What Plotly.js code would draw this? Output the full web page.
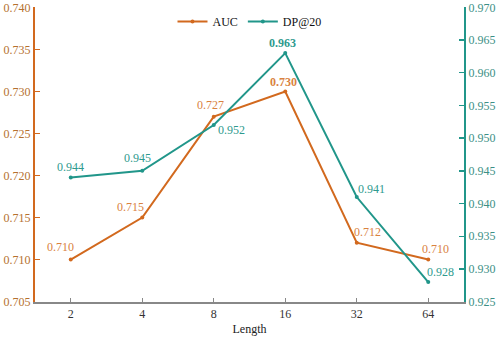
<!DOCTYPE html>
<html>
<head>
<meta charset="utf-8">
<script src="https://cdn.plot.ly/plotly-3.0.1.min.js"></script>
<style>
  html, body { margin: 0; padding: 0; background: #fff; }
  #chart { width: 498px; height: 338px; }
</style>
</head>
<body>
<div id="chart"></div>
<script>
const lengths = ['2', '4', '8', '16', '32', '64'];
const auc = [0.710, 0.715, 0.727, 0.730, 0.712, 0.710];
const dp20 = [0.944, 0.945, 0.952, 0.963, 0.941, 0.928];
const aucTicks = [0.705, 0.710, 0.715, 0.720, 0.725, 0.730, 0.735, 0.740];
const dpTicks = [0.925, 0.930, 0.935, 0.940, 0.945, 0.950, 0.955, 0.960, 0.965, 0.970];

const ORANGE = '#d2691e';
const TEAL = '#21968a';
const FONT = 'Liberation Serif';

// label offsets (px) per point; the max of each series is drawn bold
const aucShift = [[-10, 13], [-12, 11], [-3, 12], [-2, 9], [11, 11], [7, 11]];
const dpShift = [[0, 10], [-5, 13], [18, -5], [-3, 10], [15, 8], [12, 10]];

function labels(vals, yref, shifts, color) {
  const maxV = Math.max(...vals);
  return vals.map((v, i) => ({
    x: i, y: v, xref: 'x', yref,
    text: v === maxV ? `<b>${v.toFixed(3)}</b>` : v.toFixed(3),
    showarrow: false, xshift: shifts[i][0], yshift: shifts[i][1],
    font: { family: FONT, size: 12, color }
  }));
}

const pad = 0.00005;

Plotly.newPlot('chart', [
  { x: lengths, y: auc, name: 'AUC', type: 'scatter', mode: 'lines+markers',
    line: { color: ORANGE, width: 2 }, marker: { color: ORANGE, size: 4 } },
  { x: lengths, y: dp20, name: 'DP@20', type: 'scatter', mode: 'lines+markers', yaxis: 'y2',
    line: { color: TEAL, width: 2 }, marker: { color: TEAL, size: 4 } }
], {
  width: 498, height: 338,
  margin: { l: 35, r: 34, t: 7, b: 36 },
  paper_bgcolor: '#fff', plot_bgcolor: '#fff',
  font: { family: FONT, size: 12, color: '#222' },
  showlegend: true,
  legend: { orientation: 'h', x: 0.5, xanchor: 'center', y: 1.0, yanchor: 'top',
    font: { family: FONT, size: 12, color: '#111' }, bgcolor: 'rgba(0,0,0,0)' },
  xaxis: {
    type: 'category', range: [-0.5, 5.5],
    title: { text: 'Length', standoff: 4, font: { family: FONT, size: 12, color: '#222' } },
    showline: true, linecolor: '#888', linewidth: 1.5,
    ticks: 'inside', ticklen: 4, tickcolor: '#888', tickwidth: 1,
    showgrid: false, zeroline: false,
    tickfont: { family: FONT, size: 12, color: '#333' }
  },
  yaxis: {
    range: [0.705 - pad, 0.740 + pad], tickvals: aucTicks, ticktext: aucTicks.map(v => v.toFixed(3)),
    ticklabeloverflow: 'allow',
    showline: true, linecolor: ORANGE, linewidth: 2,
    ticks: 'inside', ticklen: 5, tickcolor: ORANGE, tickwidth: 1.5,
    showgrid: false, zeroline: false,
    tickfont: { family: FONT, size: 12, color: '#b5702f' }
  },
  yaxis2: {
    overlaying: 'y', side: 'right',
    range: [0.925 - pad, 0.970 + pad], tickvals: dpTicks, ticktext: dpTicks.map(v => v.toFixed(3)),
    ticklabeloverflow: 'allow',
    showline: true, linecolor: TEAL, linewidth: 2,
    ticks: 'inside', ticklen: 5, tickcolor: TEAL, tickwidth: 1.5,
    showgrid: false, zeroline: false,
    tickfont: { family: FONT, size: 12, color: '#3c8f86' }
  },
  annotations: [
    ...labels(auc, 'y', aucShift, '#d9823f'),
    ...labels(dp20, 'y2', dpShift, '#2e9a8e')
  ]
}, { displayModeBar: false, staticPlot: true });
</script>
</body>
</html>
